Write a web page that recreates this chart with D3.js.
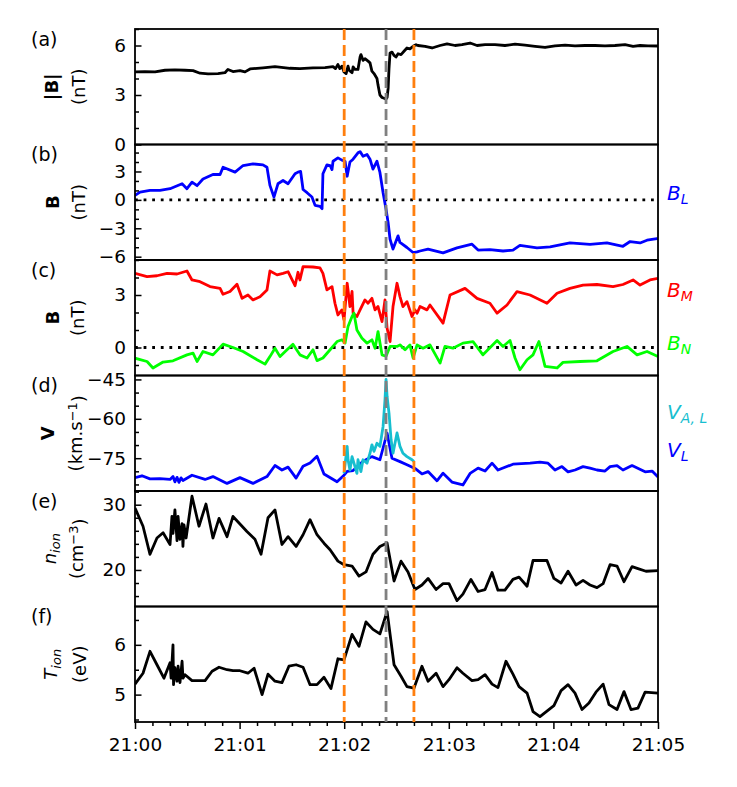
<!DOCTYPE html>
<html>
<head>
<meta charset="utf-8">
<script src="https://cdn.jsdelivr.net/npm/d3@7"></script>
<style>
  body { margin: 0; background: #fff; }
  svg text { font-family: "DejaVu Sans", sans-serif; }
</style>
</head>
<body>
<div id="dataviz"></div>
<script>
// time is in seconds after 21:00:00
var xTickLabels = ["21:00", "21:01", "21:02", "21:03", "21:04", "21:05"];
var eventTimes = [120, 144, 160];          // orange, gray, orange
var eventColors = ["#ff7f0e", "#808080", "#ff7f0e"];

// (a) |B|
var bMag = [[0,4.40],[5.7,4.42],[11.5,4.40],[17.2,4.50],[22.9,4.52],[28.7,4.50],[33.3,4.48],[37.3,4.32],
  [41.9,4.28],[47.6,4.30],[51.6,4.35],[53.3,4.55],[56.2,4.42],[60.2,4.48],[63.1,4.40],[66.0,4.58],[73.4,4.65],
  [80.3,4.72],[88.9,4.62],[94.6,4.60],[102.1,4.65],[109.0,4.66],[113.6,4.72],[115.0,4.60],[116.4,4.85],
  [117.5,4.60],[118.7,4.75],[119.9,4.40],[121.1,4.30],[122.2,4.75],[122.8,4.50],[124.5,4.35],[125.1,4.70],
  [126.2,4.55],[127.9,4.55],[129.1,5.30],[129.6,5.45],[130.8,5.10],[131.9,5.20],[133.7,5.05],[134.8,4.95],
  [135.9,4.45],[137.1,4.30],[138.8,4.00],[139.4,3.60],[140.5,3.00],[141.7,2.85],[142.9,2.80],[144.0,2.75],
  [144.6,2.85],[145.2,3.40],[145.7,4.60],[146.3,5.55],[147.4,5.60],[148.6,5.40],[149.7,5.30],[150.9,5.50],
  [152.6,5.45],[154.3,5.65],[156.0,5.85],[157.7,5.80],[159.5,5.95],[161.2,6.05],[162.3,6.00],[166.4,5.95],
  [170.4,5.85],[175.0,6.00],[179.0,6.10],[183.6,6.00],[187.6,6.05],[192.2,6.15],[196.2,6.00],[200.8,6.05],
  [206.5,6.05],[212.2,6.00],[218.0,6.08],[223.7,6.02],[229.5,5.95],[235.2,5.88],[240.9,5.98],[246.7,6.02],
  [252.4,5.98],[258.1,6.00],[263.9,6.00],[269.6,5.98],[275.3,6.00],[281.1,6.05],[285.7,5.95],[289.7,6.00],
  [294.3,5.98],[300,5.97]];

// (b) B_L
var bL = [[0,0.47],[2.9,0.82],[8.6,1.0],[14.3,1.0],[20.1,1.18],[27.0,1.7],[29.8,1.18],[32.7,1.87],[35.6,1.5],
  [39.0,2.2],[44.7,2.68],[48.8,2.68],[50.5,3.45],[57.4,2.93],[62.0,3.63],[67.7,3.8],[73.4,3.7],[75.7,3.45],
  [77.4,1.53],[79.7,0.3],[82.0,1.7],[84.9,2.05],[87.8,1.7],[91.8,2.76],[93.5,2.93],[95.0,3.0],[96.4,1.1],
  [98.7,0.76],[101.5,0.3],[103.3,-0.58],[106.1,-0.68],[107.3,-0.93],[107.8,2.76],[110.1,3.7],[111.9,3.63],
  [113.0,3.2],[113.6,4.08],[116.4,4.44],[118.7,4.2],[120.5,4.08],[121.7,2.5],[123.3,4.0],[125.1,4.3],
  [127.9,4.97],[129.1,5.1],[130.8,4.6],[133.1,4.8],[134.8,4.3],[136.5,3.25],[138.8,4.08],[140.5,2.9],
  [142.3,0.76],[144.0,-1.0],[145.2,-2.4],[146.3,-4.16],[148.0,-5.2],[150.9,-3.8],[152.0,-4.5],[156.0,-5.03],
  [159.5,-5.56],[161.8,-5.5],[163.5,-5.4],[168.1,-5.2],[169.2,-5.25],[176.7,-5.6],[184.7,-5.07],[193.3,-4.68],
  [196.8,-5.3],[203.6,-5.25],[211.1,-5.4],[216.8,-5.3],[220.8,-4.8],[230.6,-5.07],[238.1,-4.97],[249.5,-4.55],
  [261.0,-4.7],[270.7,-4.55],[279.9,-4.9],[284.0,-4.4],[289.7,-4.55],[293.7,-4.26],[299.4,-4.1],[300,-4.1]];

// (c) B_M and B_N
var bM = [[0,4.24],[6.9,4.05],[12.6,4.1],[18.4,4.24],[24.1,4.2],[29.8,4.37],[32.7,3.86],[37.3,3.76],[43.0,3.48],
  [48.8,3.38],[50.5,3.04],[54.5,3.2],[58.5,3.61],[61.4,2.81],[64.8,3.0],[67.7,2.72],[71.7,2.9],[75.7,3.29],
  [77.4,4.37],[81.5,4.15],[84.9,4.24],[87.8,4.33],[91.8,3.53],[93.5,4.3],[94.6,3.86],[96.4,4.62],[102.1,4.6],
  [106.1,4.55],[107.8,4.24],[110.1,3.29],[113.0,3.48],[114.7,2.53],[116.4,1.86],[118.7,2.15],[119.9,1.58],
  [121.7,3.67],[122.2,3.29],[123.3,2.34],[124.5,3.2],[125.1,1.96],[127.3,1.77],[129.1,2.15],[131.9,2.72],
  [133.7,2.53],[135.9,2.81],[137.7,2.15],[139.4,2.34],[141.7,1.48],[143.4,2.72],[144.6,1.1],[146.3,0.34],
  [148.0,2.34],[150.3,3.67],[152.0,2.91],[153.7,2.34],[156.0,2.62],[158.9,1.77],[160.6,2.15],[161.8,1.96],
  [163.5,2.34],[167.5,2.15],[169.2,2.43],[176.7,1.39],[180.7,3.0],[189.3,3.38],[196.2,2.81],[203.6,2.53],
  [207.7,1.96],[213.4,2.43],[219.1,3.19],[226.6,3.0],[236.3,2.53],[242.1,3.1],[249.5,3.38],[257.0,3.57],
  [265.0,3.6],[274.2,3.48],[279.9,3.6],[285.7,3.86],[289.7,3.57],[295.4,3.86],[300,3.95]];
var bN = [[0,-0.61],[6.9,-0.8],[10.3,-1.17],[16.1,-0.83],[21.8,-0.76],[29.8,-0.42],[33.3,-0.32],[35.6,-0.8],
  [39.0,-0.23],[44.7,-0.42],[50.5,0.19],[56.2,0.0],[62.0,-0.23],[70.0,-0.7],[74.6,-0.95],[77.4,-0.52],
  [80.3,-0.04],[83.2,-0.52],[87.2,-0.13],[90.6,0.19],[94.6,-0.42],[98.7,-0.6],[102.1,-0.13],[104.4,-0.75],
  [107.8,-0.6],[111.9,-0.13],[115.9,0.34],[118.7,0.44],[120.5,0.25],[122.2,1.2],[124.5,1.77],[125.6,1.96],
  [127.3,1.0],[130.2,0.53],[133.1,0.25],[135.9,0.44],[137.7,-0.04],[139.4,0.91],[141.7,-0.42],[144.0,-0.5],
  [146.3,0.06],[150.3,0.06],[152.0,0.15],[154.9,-0.13],[157.7,0.15],[159.5,-0.6],[161.8,0.15],[165.2,-0.04],
  [169.2,0.15],[175.0,-0.89],[177.8,0.06],[182.4,-0.04],[188.1,0.25],[193.9,0.34],[199.6,-0.42],[207.7,0.4],
  [211.1,0.06],[215.1,0.4],[218.0,-0.6],[220.8,-1.27],[224.9,-0.7],[228.3,-0.42],[231.7,0.34],[235.2,-1.08],
  [242.1,-1.17],[245.5,-0.85],[255.3,-0.8],[265.0,-0.76],[274.2,-0.23],[282.2,0.06],[288.0,-0.42],
  [293.7,-0.23],[300,-0.52]];

// (d) V_L and V_A,L
var vL = [[0,-82.4],[4.0,-81.7],[8.6,-82.9],[14.3,-82.8],[20.1,-83.1],[21.8,-82.0],[22.9,-84.0],[24.1,-82.3],
  [25.2,-84.2],[26.4,-82.5],[27.5,-83.5],[32.7,-81.5],[40.2,-83.1],[44.7,-82.0],[52.8,-84.6],[60.2,-82.4],
  [67.7,-84.6],[75.7,-82.0],[80.3,-77.8],[84.3,-79.5],[87.8,-78.4],[92.4,-82.6],[96.4,-78.1],[100.4,-76.8],
  [104.4,-74.3],[108.4,-81.0],[115.9,-84.0],[119.9,-81.5],[121.7,-80.0],[125.1,-79.7],[130.8,-76.2],
  [135.9,-74.4],[140.5,-75.6],[144.6,-65.4],[147.4,-75.0],[152.0,-76.3],[156.0,-77.5],[160.6,-78.9],
  [164.6,-81.0],[168.1,-80.1],[173.2,-83.6],[176.7,-80.7],[181.8,-84.1],[188.1,-85.2],[192.2,-80.8],
  [196.8,-78.8],[200.8,-79.9],[204.8,-76.9],[208.2,-79.5],[216.8,-77.3],[226.6,-76.9],[232.3,-76.5],
  [236.9,-76.9],[240.9,-79.5],[244.9,-78.2],[248.4,-80.2],[252.4,-79.5],[257.0,-78.2],[261.0,-78.8],
  [265.0,-79.5],[269.6,-79.9],[272.5,-78.2],[276.5,-77.8],[279.9,-79.5],[285.1,-77.8],[292.6,-80.2],
  [296.6,-79.9],[300,-82.2]];
var vAL = [[119.9,-80.8],[121.7,-70.5],[122.2,-75.6],[123.3,-79.5],[124.5,-74.4],[125.6,-76.9],[127.3,-80.8],
  [127.9,-75.6],[129.6,-80.1],[130.8,-75.6],[133.1,-76.9],[134.8,-73.1],[135.9,-69.9],[137.1,-72.4],
  [138.8,-69.3],[140.5,-70.5],[142.3,-62.9],[143.4,-52.7],[144.0,-45.0],[144.6,-51.5],[145.7,-57.8],
  [146.9,-68.0],[148.0,-73.1],[150.3,-65.4],[152.0,-70.5],[153.7,-73.1],[156.0,-74.4],[158.9,-75.6],
  [160.0,-76.3]];

// (e) n_ion
var nIon = [[0,29.5],[4.6,26.7],[8.6,22.4],[12.6,24.9],[16.1,25.7],[20.1,23.9],[21.2,28.2],[21.8,25.6],
  [22.9,29.2],[24.1,24.5],[24.7,28.2],[25.8,24.7],[27.0,27.1],[27.5,23.6],[28.1,26.9],[29.3,24.9],[32.7,31.3],
  [36.7,26.7],[40.7,30.1],[44.7,24.9],[48.2,27.9],[52.8,25.1],[56.2,28.2],[64.2,25.9],[68.8,24.7],[72.3,22.4],
  [76.3,28.0],[80.3,29.2],[84.3,23.9],[87.8,25.1],[92.4,23.6],[96.4,25.4],[100.4,27.7],[104.4,25.4],
  [108.4,24.1],[111.9,23.1],[116.4,21.35],[119.9,20.8],[124.5,20.6],[128.5,19.05],[132.5,19.7],[136.5,22.4],
  [140.5,23.6],[144.6,24.15],[148.6,18.3],[152.6,21.35],[156.6,19.7],[160.6,17.0],[164.6,17.7],[168.1,18.7],
  [172.7,17.0],[176.7,17.9],[180.1,17.9],[184.7,15.3],[188.1,16.3],[192.7,18.55],[196.8,16.7],[200.8,17.0],
  [204.8,19.6],[208.2,16.9],[212.2,16.9],[216.8,18.55],[220.3,18.9],[224.9,17.5],[228.3,21.45],[236.3,21.45],
  [240.3,18.7],[244.4,18.0],[248.4,19.8],[253.0,17.7],[257.0,18.4],[261.0,17.7],[265.0,17.3],[268.5,17.9],
  [272.5,20.8],[276.5,20.6],[280.5,18.2],[285.1,20.5],[288.5,20.2],[293.1,19.8],[300,19.9]];

// (f) T_ion
var tIon = [[0,5.21],[4.6,5.43],[8.6,5.87],[12.6,5.6],[16.6,5.33],[20.1,5.64],[20.7,5.33],[21.8,6.0],[22.1,5.2],
  [22.9,5.54],[24.1,5.27],[24.7,5.57],[25.8,5.24],[27.0,5.67],[27.5,5.33],[28.7,5.4],[32.7,5.28],[40.2,5.28],
  [44.2,5.47],[48.2,5.55],[52.8,5.5],[56.2,5.48],[60.2,5.48],[64.8,5.43],[68.3,5.53],[72.9,5.0],[76.3,5.41],
  [80.3,5.27],[84.3,5.24],[88.3,5.57],[92.4,5.6],[96.4,5.55],[100.4,5.2],[104.4,5.2],[108.4,5.35],[112.4,5.12],
  [116.4,5.72],[119.9,5.7],[124.5,6.21],[128.5,5.97],[132.5,6.46],[136.5,6.31],[140.5,6.22],[144.6,6.67],
  [148.6,5.6],[152.6,5.37],[156.0,5.16],[160.0,5.13],[164.6,5.57],[168.1,5.27],[172.7,5.43],[176.7,5.16],
  [180.1,5.3],[184.7,5.54],[188.1,5.43],[193.3,5.28],[196.8,5.3],[200.8,5.4],[204.8,5.21],[208.2,5.14],
  [212.8,5.67],[216.8,5.41],[220.3,5.16],[224.9,5.03],[228.3,4.66],[232.3,4.56],[236.3,4.67],[240.3,4.78],
  [244.4,5.08],[248.4,5.2],[252.4,5.03],[256.4,4.7],[260.4,4.83],[264.4,5.05],[268.5,5.21],[271.9,4.8],
  [276.5,4.7],[280.5,5.06],[284.5,4.7],[288.5,4.73],[292.6,5.05],[300,5.03]];

// y axis ticks per panel
var yDomains = [[0, 7], [-6.35, 5.85], [-1.6, 5.0], [-87.5, -43.5], [14.4, 32.1], [4.45, 6.77]];
var yMajor = [[0, 3, 6], [-6, -3, 0, 3], [0, 3], [-75, -60, -45], [20, 30], [5, 6]];
var yMinorStep = [1, 1, 1, 5, 2, 0.5];
var panelTags = ["(a)", "(b)", "(c)", "(d)", "(e)", "(f)"];

// layout
var W = 737, H = 787;
var left = 135, right = 658, top0 = 29, ph = 115.5;

var svg = d3.select("#dataviz")
  .append("svg")
  .attr("width", W)
  .attr("height", H);

var x = d3.scaleLinear().domain([0, 300]).range([left, right]);

var series = [
  [{d: bMag, c: "#000000"}],
  [{d: bL, c: "#0000ff"}],
  [{d: bM, c: "#ff0000"}, {d: bN, c: "#00ff00"}],
  [{d: vL, c: "#0000ff"}, {d: vAL, c: "#17becf"}],
  [{d: nIon, c: "#000000"}],
  [{d: tIon, c: "#000000"}]
];
var zeroLine = [false, true, true, false, false, false];

var fs = 18.5;
var intFmt = d3.format("d");

series.forEach(function(lines, i) {
  var y0 = top0 + i * ph, y1 = y0 + ph;
  var y = d3.scaleLinear().domain(yDomains[i]).range([y1, y0]);
  var g = svg.append("g");

  g.append("clipPath").attr("id", "clip" + i)
    .append("rect").attr("x", left).attr("y", y0).attr("width", right - left).attr("height", ph);

  if (zeroLine[i]) {
    g.append("line")
      .attr("x1", left).attr("x2", right)
      .attr("y1", y(0)).attr("y2", y(0))
      .attr("stroke", "#000").attr("stroke-width", 2.8)
      .attr("stroke-dasharray", "2.8,5.8");
  }

  var line = d3.line()
    .x(function(d) { return x(d[0]); })
    .y(function(d) { return y(d[1]); });

  lines.forEach(function(s) {
    g.append("path")
      .datum(s.d)
      .attr("clip-path", "url(#clip" + i + ")")
      .attr("fill", "none")
      .attr("stroke", s.c)
      .attr("stroke-width", 2.8)
      .attr("stroke-linejoin", "round")
      .attr("d", line);
  });

  // minor ticks (inward)
  var lo = yDomains[i][0], hi = yDomains[i][1], st = yMinorStep[i];
  var minor = [];
  for (var v = Math.ceil(lo / st) * st; v <= hi + 1e-9; v += st) {
    var vv = Math.round(v * 100) / 100;
    if (yMajor[i].indexOf(vv) < 0) minor.push(vv);
  }
  var ga = g.append("g").attr("transform", "translate(" + left + ",0)");
  ga.call(d3.axisLeft(y).tickValues(minor).tickSizeInner(-4).tickSizeOuter(0).tickFormat(""));
  ga.select(".domain").remove();
  ga.selectAll("line").attr("stroke-width", 1.5);

  var gm = g.append("g").attr("transform", "translate(" + left + ",0)");
  gm.call(d3.axisLeft(y).tickValues(yMajor[i]).tickSizeInner(-6.5).tickSizeOuter(0)
    .tickPadding(9).tickFormat(intFmt));
  gm.select(".domain").remove();
  gm.selectAll("line").attr("stroke-width", 1.5);
  gm.selectAll("text").attr("font-size", fs).attr("font-family", "DejaVu Sans");

  g.append("rect")
    .attr("x", left).attr("y", y0).attr("width", right - left).attr("height", ph)
    .attr("fill", "none").attr("stroke", "#000").attr("stroke-width", 1.8);

  g.append("text")
    .attr("x", 31).attr("y", y0 + 16.5)
    .attr("font-size", 19)
    .text(panelTags[i]);
});

// bottom time axis
var yb = top0 + 6 * ph;
var xMinor = d3.range(0, 301, 10).filter(function(d) { return d % 60 !== 0; });
svg.append("g")
  .attr("transform", "translate(0," + yb + ")")
  .call(d3.axisBottom(x).tickValues(xMinor).tickSizeInner(4).tickSizeOuter(0).tickFormat(""))
  .call(function(s) { s.select(".domain").remove(); s.selectAll("line").attr("stroke-width", 1.5); });
var gx = svg.append("g")
  .attr("transform", "translate(0," + yb + ")")
  .call(d3.axisBottom(x).tickValues([0, 60, 120, 180, 240, 300]).tickSizeInner(7).tickSizeOuter(0)
    .tickPadding(9).tickFormat(function(d, i) { return xTickLabels[i]; }));
gx.select(".domain").remove();
gx.selectAll("line").attr("stroke-width", 1.5);
gx.selectAll("text").attr("font-size", fs).attr("font-family", "DejaVu Sans");

// event lines across all panels
eventTimes.forEach(function(t, i) {
  svg.append("line")
    .attr("x1", x(t)).attr("x2", x(t))
    .attr("y1", top0).attr("y2", yb)
    .attr("stroke", eventColors[i]).attr("stroke-width", 2.8)
    .attr("stroke-dasharray", "11,5");
});

// y labels: bold/italic quantity and unit on two rotated lines
function ylab(cx, cy, build) {
  var t = svg.append("text")
    .attr("transform", "translate(" + cx + "," + cy + ") rotate(-90)")
    .attr("text-anchor", "middle")
    .attr("dy", "0.36em")
    .attr("font-size", 18);
  build(t);
}
var pc = function(i) { return top0 + i * ph + ph / 2; };

ylab(52, pc(0), function(t) { t.attr("font-weight", "bold").text("|B|"); });
ylab(79, pc(0), function(t) { t.text("(nT)"); });
ylab(53, pc(1), function(t) { t.attr("font-weight", "bold").text("B"); });
ylab(79, pc(1), function(t) { t.text("(nT)"); });
ylab(53, pc(2), function(t) { t.attr("font-weight", "bold").text("B"); });
ylab(78, pc(2), function(t) { t.text("(nT)"); });
ylab(48, pc(3), function(t) { t.attr("font-weight", "bold").text("V"); });
ylab(76, pc(3), function(t) {
  t.append("tspan").text("(km.s");
  t.append("tspan").attr("dy", "-0.45em").attr("font-size", 13).text("\u22121");
  t.append("tspan").attr("dy", "0.45em").text(")");
});
ylab(50, pc(4), function(t) {
  t.append("tspan").attr("font-style", "italic").text("n");
  t.append("tspan").attr("dy", "0.25em").attr("font-size", 13).attr("font-style", "italic").text("ion");
});
ylab(77, pc(4), function(t) {
  t.append("tspan").text("(cm");
  t.append("tspan").attr("dy", "-0.45em").attr("font-size", 13).text("\u22123");
  t.append("tspan").attr("dy", "0.45em").text(")");
});
ylab(51, pc(5), function(t) {
  t.append("tspan").attr("font-style", "italic").text("T");
  t.append("tspan").attr("dy", "0.25em").attr("font-size", 13).attr("font-style", "italic").text("ion");
});
ylab(80, pc(5), function(t) { t.text("(eV)"); });

// right-hand series names
var rightNames = [
  {main: "B", sub: "L", c: "#0000ff", y: 200},
  {main: "B", sub: "M", c: "#ff0000", y: 297},
  {main: "B", sub: "N", c: "#00ff00", y: 350},
  {main: "V", sub: "A, L", c: "#17becf", y: 419},
  {main: "V", sub: "L", c: "#0000ff", y: 457}
];
rightNames.forEach(function(r) {
  var t = svg.append("text")
    .attr("x", 667).attr("y", r.y)
    .attr("fill", r.c)
    .attr("font-size", 20)
    .attr("font-style", "italic");
  t.append("tspan").text(r.main);
  t.append("tspan").attr("dy", 4).attr("font-size", 14).text(r.sub);
});
</script>
</body>
</html>
